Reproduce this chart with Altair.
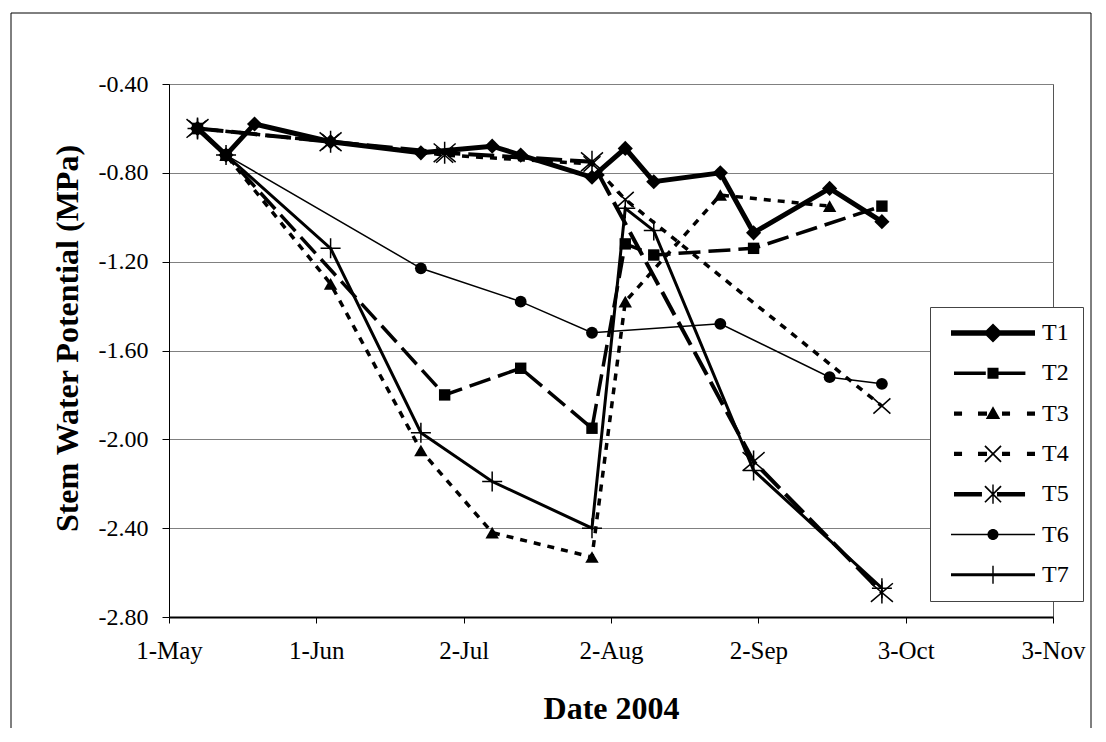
import altair as alt
import pandas as pd

# ---------------- data ----------------
SERIES = ["T1", "T2", "T3", "T4", "T5", "T6", "T7"]

t1_dates = ["2004-05-07", "2004-05-13", "2004-05-19", "2004-06-04", "2004-06-23", "2004-07-08",
            "2004-07-14", "2004-07-29", "2004-08-05", "2004-08-11", "2004-08-25", "2004-09-01",
            "2004-09-17", "2004-09-28"]
t1_vals = [-0.60, -0.72, -0.58, -0.66, -0.71, -0.68, -0.72, -0.82, -0.69, -0.84, -0.80, -1.07, -0.87, -1.02]

t2_dates = ["2004-05-07", "2004-05-13", "2004-06-28", "2004-07-14", "2004-07-29", "2004-08-05",
            "2004-08-11", "2004-09-01", "2004-09-28"]
t2_vals = [-0.60, -0.72, -1.80, -1.68, -1.95, -1.12, -1.17, -1.14, -0.95]

t3_dates = ["2004-05-07", "2004-05-13", "2004-06-04", "2004-06-23", "2004-07-08", "2004-07-29",
            "2004-08-05", "2004-08-25", "2004-09-17"]
t3_vals = [-0.60, -0.72, -1.30, -2.05, -2.42, -2.53, -1.38, -0.90, -0.95]

t4_dates = ["2004-05-07", "2004-06-04", "2004-06-28", "2004-07-29", "2004-08-05", "2004-09-28"]
t4_vals = [-0.60, -0.66, -0.72, -0.76, -0.92, -1.85]

t5_dates = ["2004-05-07", "2004-06-04", "2004-06-28", "2004-07-29", "2004-09-01", "2004-09-28"]
t5_vals = [-0.60, -0.66, -0.71, -0.75, -2.10, -2.69]

t6_dates = ["2004-05-07", "2004-05-13", "2004-06-23", "2004-07-14", "2004-07-29", "2004-08-25",
            "2004-09-17", "2004-09-28"]
t6_vals = [-0.60, -0.72, -1.23, -1.38, -1.52, -1.48, -1.72, -1.75]

t7_dates = ["2004-05-07", "2004-05-13", "2004-06-04", "2004-06-23", "2004-07-08", "2004-07-29",
            "2004-08-05", "2004-08-11", "2004-09-01", "2004-09-28"]
t7_vals = [-0.60, -0.72, -1.14, -1.97, -2.19, -2.40, -0.96, -1.06, -2.14, -2.67]

x_tick_dates = ["2004-05-01", "2004-06-01", "2004-07-02", "2004-08-02", "2004-09-02",
                "2004-10-03", "2004-11-03"]
y_ticks = [-2.80, -2.40, -2.00, -1.60, -1.20, -0.80, -0.40]

# ---------------- build table ----------------
all_dates = [t1_dates, t2_dates, t3_dates, t4_dates, t5_dates, t6_dates, t7_dates]
all_vals = [t1_vals, t2_vals, t3_vals, t4_vals, t5_vals, t6_vals, t7_vals]
rows = []
for s, ds, vs in zip(SERIES, all_dates, all_vals):
    for d, v in zip(ds, vs):
        rows.append({"series": s, "date": d, "value": v})
df = pd.DataFrame(rows)


def dt(s):
    y, m, d = s.split("-")
    return alt.DateTime(year=int(y), month=int(m), date=int(d), utc=True)


FONT = "Liberation Serif"

x_enc = alt.X(
    "date:T",
    scale=alt.Scale(type="utc", domain=[dt(x_tick_dates[0]), dt(x_tick_dates[-1])]),
    axis=alt.Axis(
        values=[dt(s) for s in x_tick_dates], format="%-d-%b",
        labelFont=FONT, labelFontSize=25, labelColor="black", labelPadding=15,
        labelFlush=False, labelOverlap=False,
        tickSize=6, tickColor="black", domainColor="black", domainWidth=2, grid=False,
        title="Date 2004", titleFont=FONT, titleFontSize=32, titleFontWeight="bold",
        titleColor="black", titleX=442, titleY=91, titleAlign="center", titleBaseline="middle",
    ),
)
y_enc = alt.Y(
    "value:Q",
    scale=alt.Scale(domain=[-2.8, -0.4], nice=False, zero=False),
    axis=alt.Axis(
        values=y_ticks, labelExpr="replace(format(datum.value, '.2f'), '\u2212', '-')",
        labelFont=FONT, labelFontSize=24, labelColor="black", labelPadding=14,
        tickSize=7, tickColor="black", domainColor="black", domainWidth=1,
        grid=True, gridColor="#808080", gridWidth=1,
        title="Stem Water Potential (MPa)", titleFont=FONT, titleFontSize=32,
        titleFontWeight="bold", titleColor="black", titleAngle=270,
        titleX=-102, titleY=254, titleAlign="center", titleBaseline="middle",
    ),
)

X_PATH = "M-1,-0.9L1,0.9M-1,0.9L1,-0.9"
AST_PATH = "M-1,-0.85L1,0.85M-1,0.85L1,-0.85M0,-1L0,1"
PLUS_PATH = "M-1,0L1,0M0,-1L0,1"

line_styles = {
    "T1": dict(strokeWidth=5),
    "T2": dict(strokeWidth=3.5, strokeDash=[22, 8]),
    "T3": dict(strokeWidth=3.5, strokeDash=[7, 7]),
    "T4": dict(strokeWidth=3.5, strokeDash=[7, 7]),
    "T5": dict(strokeWidth=4, strokeDash=[26, 8]),
    "T6": dict(strokeWidth=1.5),
    "T7": dict(strokeWidth=3),
}
point_styles = {
    "T1": dict(shape="diamond", size=230, filled=True),
    "T2": dict(shape="square", size=130, filled=True),
    "T3": dict(shape="triangle-up", size=180, filled=True),
    "T4": dict(shape=X_PATH, size=289, filled=False, strokeWidth=1.5),
    "T5": dict(shape=AST_PATH, size=484, filled=False, strokeWidth=1.5),
    "T6": dict(shape="circle", size=140, filled=True),
    "T7": dict(shape=PLUS_PATH, size=400, filled=False, strokeWidth=1.5),
}

layers = []
# outer chart-area frame (decoration)
layers.append(
    alt.Chart(alt.Data(values=[{"k": 1}])).mark_rect(
        filled=False, stroke="black", strokeWidth=1
    ).encode(x=alt.value(-158), x2=alt.value(922), y=alt.value(-71), y2=alt.value(700))
)

for s in SERIES:
    base = alt.Chart(df).transform_filter(alt.datum.series == s)
    layers.append(base.mark_line(color="black", **line_styles[s]).encode(x=x_enc, y=y_enc))
    layers.append(base.mark_point(color="black", opacity=1, **point_styles[s]).encode(x=x_enc, y=y_enc))

# legend symbols: line + marker drawn as one path (units of 12 px)
DASHES = ("M-3.25,-0.17H-2.58V0.17H-3.25Z M-1.25,-0.17H-0.5V0.17H-1.25Z "
          "M0.75,-0.17H1.42V0.17H0.75Z M2.83,-0.17H3.5V0.17H2.83Z ")
XBARS = "M-0.72,-0.62L-0.62,-0.72L0.72,0.62L0.62,0.72Z M0.62,-0.72L0.72,-0.62L-0.62,0.72L-0.72,0.62Z "
legend_paths = [
    "M-3.5,-0.23H3.5V0.23H-3.5Z M0,-0.8L0.8,0L0,0.8L-0.8,0Z",
    "M-3.25,-0.15H-0.6V0.15H-3.25Z M0.45,-0.15H2.7V0.15H0.45Z M-0.46,-0.46H0.46V0.46H-0.46Z",
    DASHES + "M0,-0.62L0.6,0.45L-0.6,0.45Z",
    DASHES + XBARS,
    "M-3.25,-0.19H-0.92V0.19H-3.25Z M0.33,-0.19H2.67V0.19H0.33Z " + XBARS
    + "M-0.06,-0.8H0.06V0.8H-0.06Z",
    "M-3.5,-0.065H3.5V0.065H-3.5Z M-0.46,0A0.46,0.46 0 1,1 0.46,0A0.46,0.46 0 1,1 -0.46,0Z",
    "M-3.5,-0.125H3.5V0.125H-3.5Z M-0.06,-0.75H0.06V0.75H-0.06Z",
]

legend_layer = alt.Chart(df).transform_filter("false").mark_point(
    filled=True, color="black", strokeWidth=0, size=576, opacity=1
).encode(
    shape=alt.Shape(
        "series:N",
        scale=alt.Scale(domain=SERIES, range=legend_paths),
        legend=alt.Legend(
            title=None, orient="none", legendX=761, legendY=223, padding=14,
            strokeColor="#444", fillColor="white",
            symbolSize=576, symbolOffset=37, symbolStrokeWidth=0,
            symbolFillColor="black", symbolOpacity=1,
            labelOffset=37, labelFont=FONT, labelFontSize=24, labelColor="black",
            rowPadding=16.3,
        ),
    )
)
layers.append(legend_layer)

chart = alt.layer(*layers).properties(
    width=884, height=533,
    autosize=alt.AutoSizeParams(type="none"),
    padding={"left": 161, "top": 76, "right": 44, "bottom": 111},
    background="white",
).configure_view(stroke="#555", strokeWidth=1)

chart.save("out.html", embed_options={"renderer": "svg", "actions": False})
